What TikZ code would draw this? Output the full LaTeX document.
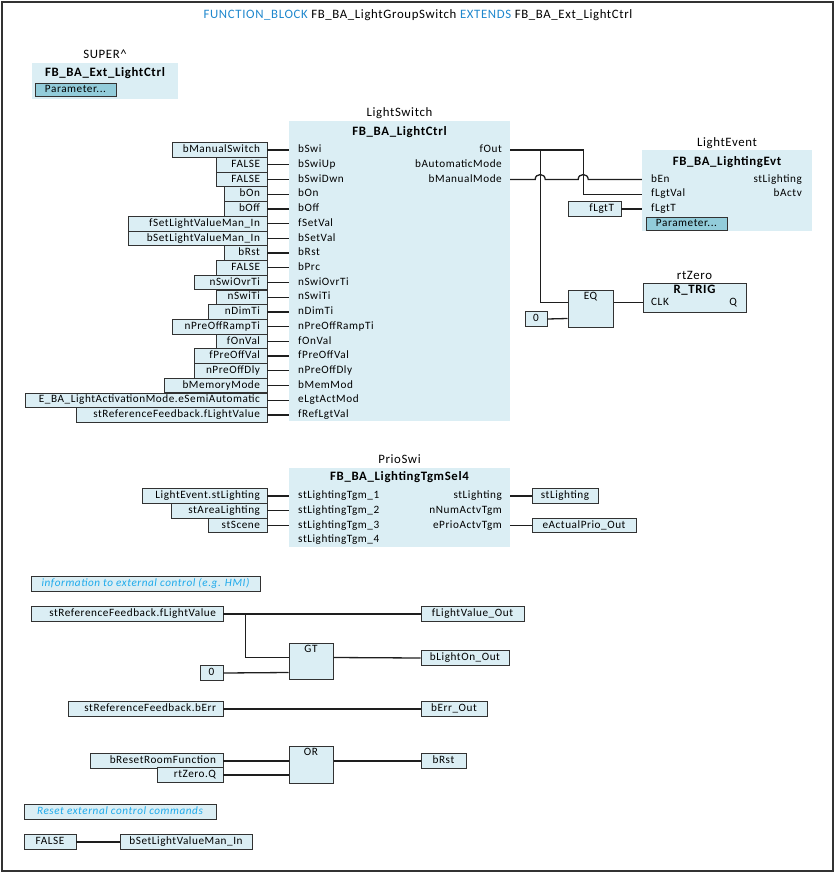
\documentclass[tikz,border=0pt]{standalone}
\usepackage{fontspec}
\setmainfont{Carlito}[LetterSpace=5]
\usetikzlibrary{calc}
\definecolor{boxfill}{RGB}{219,238,244}
\definecolor{parcol}{RGB}{146,204,218}
\definecolor{bcol}{RGB}{50,50,50}
\definecolor{wcol}{RGB}{30,30,30}
\definecolor{kwcol}{RGB}{30,135,205}
\definecolor{cmtcol}{RGB}{30,170,235}
\newcommand\ftxt{\fontsize{11.2}{13}\selectfont}
\newcommand\fbig{\fontsize{12.8}{15}\selectfont}
\tikzset{
  vbox/.style={draw=bcol, fill=boxfill, line width=0.8pt, minimum height=14.6, inner ysep=0, font=\ftxt, text height=8, text depth=2.5},
  blk/.style={fill=boxfill, inner sep=0},
  gate/.style={draw=bcol, fill=boxfill, line width=1pt, inner sep=0},
  wire/.style={draw=wcol, line width=1.3pt},
  pin/.style={font=\ftxt, inner sep=0, text height=8, text depth=2.5},
  lbl/.style={font=\fbig, inner sep=0},
  ttl/.style={font=\fbig\bfseries, inner sep=0},
  cmt/.style={draw=bcol, fill=boxfill, line width=0.8pt, minimum height=15, inner sep=0, font=\ftxt\itshape, text=cmtcol, text height=8, text depth=2.5},
  param/.style={draw=bcol, fill=parcol, line width=0.8pt, inner sep=0, font=\ftxt, text height=8, text depth=2.5},
  frm/.style={draw=bcol, line width=1.2pt, inner sep=0},
}
% name, left, right, y, align, text
\newcommand\vbx[6]{%
  \pgfmathsetmacro\vbw{#3-#2-14}%
  \node[vbox, inner xsep=7, text width=\vbw pt, align=#5] (#1) at ({(#2+#3)/2},#4) {#6};%
}
\begin{document}
\begin{tikzpicture}[x=1pt,y=-1pt]
\useasboundingbox (0,0) rectangle (836,873);
\node[frm, minimum width=831, minimum height=869] (frame) at (417.5,436.5) {};

% title
\node[lbl] (title) at (418,15) {{\color{kwcol}FUNCTION\_BLOCK} FB\_BA\_LightGroupSwitch {\color{kwcol}EXTENDS} FB\_BA\_Ext\_LightCtrl};

% SUPER
\node[blk, minimum width=146, minimum height=36] (sup) at (105,81) {};
\node[lbl] (supl) at (105,54) {SUPER\textasciicircum};
\node[ttl] (supt) at (105,73) {FB\_BA\_Ext\_LightCtrl};
\node[param, minimum width=81, minimum height=13] (supp) at (75.5,90) {Parameter...};

% LightSwitch
\node[blk, minimum width=221, minimum height=300] (ls) at (399.5,271) {};
\node[lbl] (lsl) at (399.5,113) {LightSwitch};
\node[ttl] (lst) at (399.5,132) {FB\_BA\_LightCtrl};
\foreach \i/\l/\t/\p in {1/172/bManualSwitch/bSwi, 2/216/FALSE/bSwiUp, 3/216/FALSE/bSwiDwn,
  4/224/bOn/bOn, 5/224/bOff/bOff, 6/128/fSetLightValueMan\_In/fSetVal,
  7/128/bSetLightValueMan\_In/bSetVal, 8/224/bRst/bRst, 9/216/FALSE/bPrc,
  10/194/nSwiOvrTi/nSwiOvrTi, 11/216/nSwiTi/nSwiTi, 12/208/nDimTi/nDimTi,
  13/172/nPreOffRampTi/nPreOffRampTi, 14/216/fOnVal/fOnVal, 15/194/fPreOffVal/fPreOffVal,
  16/194/nPreOffDly/nPreOffDly, 17/164/bMemoryMode/bMemMod,
  18/25/E\_BA\_LightActivationMode.eSemiAutomatic/eLgtActMod,
  19/76/stReferenceFeedback.fLightValue/fRefLgtVal}{
  \pgfmathsetmacro\yy{150+14.72*(\i-1)}
  \vbx{in\i}{\l}{267}{\yy}{right}{\t}
  \node[pin, anchor=west] (pi\i) at (298,\yy) {\p};
  \draw[wire] (in\i.east) -- (in\i.east -| ls.west);
}
\node[pin, anchor=east] (lo1) at (502,150) {fOut};
\node[pin, anchor=east] (lo2) at (502,164.72) {bAutomaticMode};
\node[pin, anchor=east] (lo3) at (502,179.44) {bManualMode};

% LightEvent
\node[blk, minimum width=170, minimum height=81] (le) at (727,190.5) {};
\node[lbl] (lel) at (727,143) {LightEvent};
\node[ttl] (let) at (727,162) {FB\_BA\_LightingEvt};
\node[pin, anchor=west] (lei1) at (651,179.44) {bEn};
\node[pin, anchor=west] (lei2) at (651,194.16) {fLgtVal};
\node[pin, anchor=west] (lei3) at (651,208.88) {fLgtT};
\node[pin, anchor=east] (leo1) at (802,179.44) {stLighting};
\node[pin, anchor=east] (leo2) at (802,194.16) {bActv};
\node[param, minimum width=81, minimum height=13] (lep) at (686.5,223.5) {Parameter...};
\vbx{flgt}{568}{621}{208.88}{right}{fLgtT}
\draw[wire] (flgt.east) -- (le.west |- flgt.east);

% EQ and R_TRIG
\node[gate, minimum width=45, minimum height=37] (eq) at (590.5,308.5) {};
\node[pin] (eqt) at (590.5,297) {EQ};
\path (eq.north west) ++(0,13) coordinate (eqa) ++(0,16) coordinate (eqb);
\vbx{z1}{525}{547}{319}{center}{0}
\draw[wire] (z1.east) -- (eqb);
\node[gate, minimum width=103, minimum height=29] (rt) at (694.5,297.5) {};
\node[lbl] (rtl) at (694.5,275) {rtZero};
\node[ttl] (rtt) at (694.5,290) {R\_TRIG};
\node[pin, anchor=west] (rtc) at (651,303) {CLK};
\node[pin, anchor=east] (rtq) at (737,303) {Q};
\draw[wire] (eq.east |- eqa) -- (rt.west |- eqa);

% wiring from LightSwitch outputs
\path (ls.east |- lo1) ++(30,0) coordinate (j1) ++(43,0) coordinate (j2);
\draw[wire] (ls.east |- lo1) -- (j2) -- (j2 |- lei2) -- (le.west |- lei2);
\draw[wire] (j1) -- (j1 |- eqa) -- (eqa);
\draw[wire] (ls.east |- lo3) -- ($(j1 |- lo3)+(-5,0)$) .. controls +(0,-6.5) and +(0,-6.5) .. ($(j1 |- lo3)+(5,0)$)
  -- ($(j2 |- lo3)+(-5,0)$) .. controls +(0,-6.5) and +(0,-6.5) .. ($(j2 |- lo3)+(5,0)$) -- (le.west |- lei1);

% PrioSwi
\node[blk, minimum width=221, minimum height=79] (ps) at (399.5,507.5) {};
\node[lbl] (psl) at (399.5,459) {PrioSwi};
\node[ttl] (pst) at (399.5,477) {FB\_BA\_LightingTgmSel4};
\node[pin, anchor=west] (psi1) at (298,496) {stLightingTgm\_1};
\node[pin, anchor=west] (psi2) at (298,510.72) {stLightingTgm\_2};
\node[pin, anchor=west] (psi3) at (298,525.44) {stLightingTgm\_3};
\node[pin, anchor=west] (psi4) at (298,540.16) {stLightingTgm\_4};
\node[pin, anchor=east] (pso1) at (502,496) {stLighting};
\node[pin, anchor=east] (pso2) at (502,510.72) {nNumActvTgm};
\node[pin, anchor=east] (pso3) at (502,525.44) {ePrioActvTgm};
\vbx{pb1}{142}{267}{496}{right}{LightEvent.stLighting}
\vbx{pb2}{171}{267}{510.72}{right}{stAreaLighting}
\vbx{pb3}{208}{267}{525.44}{right}{stScene}
\vbx{pc1}{532}{598}{496}{center}{stLighting}
\vbx{pc3}{532}{636}{525.44}{center}{eActualPrio\_Out}
\draw[wire] (pb1.east) -- (ps.west |- pb1.east);
\draw[wire] (pb2.east) -- (ps.west |- pb2.east);
\draw[wire] (pb3.east) -- (ps.west |- pb3.east);
\draw[wire] (ps.east |- pc1.west) -- (pc1.west);
\draw[wire] (ps.east |- pc3.west) -- (pc3.west);

% information to external control
\node[cmt, minimum width=229] (c1) at (145.5,584) {information to external control (e.g. HMI)};
\vbx{flv}{31}{223}{614}{right}{stReferenceFeedback.fLightValue}
\vbx{flvo}{421}{524}{614}{center}{fLightValue\_Out}
\node[gate, minimum width=44, minimum height=36] (gt) at (311,661) {};
\node[pin] (gtt) at (311,650) {GT};
\path (gt.north west) ++(0,15) coordinate (gta) ++(0,15) coordinate (gtb);
\vbx{z2}{200}{223}{673}{center}{0}
\vbx{blo}{421}{509}{658}{center}{bLightOn\_Out}
\path (flv.east) ++(22,0) coordinate (j3);
\draw[wire] (flv.east) -- (flvo.west);
\draw[wire] (j3) -- (j3 |- gta) -- (gta);
\draw[wire] (z2.east) -- (gtb);
\draw[wire] (gt.east |- gta) -- (blo.west);
\vbx{berr}{68}{223}{709}{right}{stReferenceFeedback.bErr}
\vbx{berro}{421}{487}{709}{center}{bErr\_Out}
\draw[wire] (berr.east) -- (berro.west);

% OR
\node[gate, minimum width=44, minimum height=37] (or) at (311,764.5) {};
\node[pin] (ort) at (311,753) {OR};
\vbx{brf}{90}{223}{761}{right}{bResetRoomFunction}
\vbx{rzq}{157}{223}{775}{right}{rtZero.Q}
\vbx{brst}{421}{466}{761}{center}{bRst}
\draw[wire] (brf.east) -- (or.west |- brf.east);
\draw[wire] (rzq.east) -- (or.west |- rzq.east);
\draw[wire] (or.east |- brf.east) -- (brst.west);

% reset
\node[cmt, minimum width=192] (c2) at (120,812) {Reset external control commands};
\vbx{f5}{24}{76}{842}{center}{FALSE}
\vbx{bsl}{120}{252}{842}{center}{bSetLightValueMan\_In}
\draw[wire] (f5.east) -- (bsl.west);
\end{tikzpicture}
\end{document}
